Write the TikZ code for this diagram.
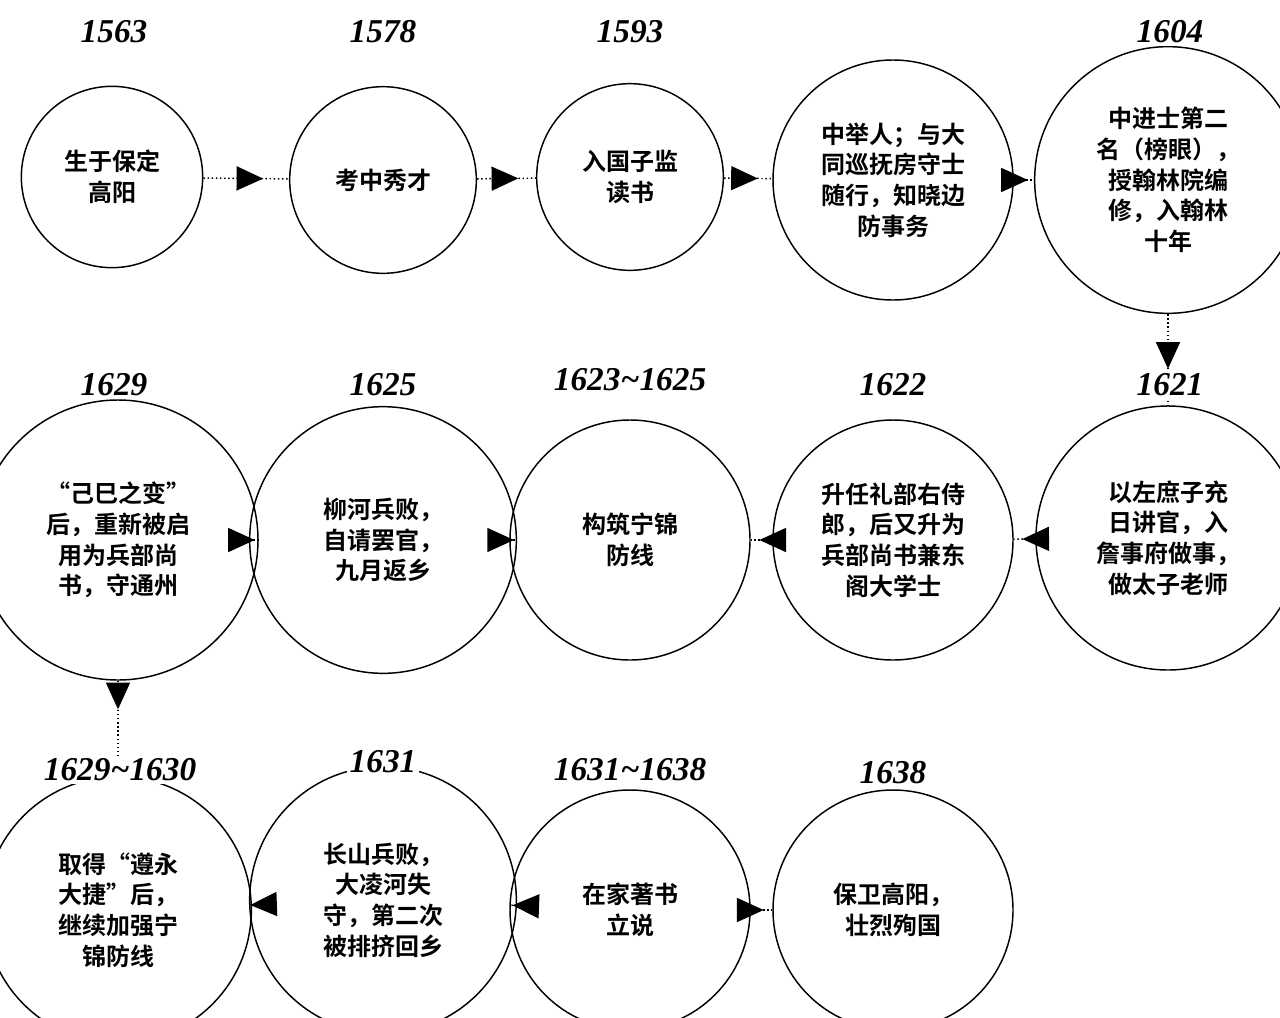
\documentclass[tikz,border=0pt]{standalone}
\usepackage{fontspec}
\setmainfont{Liberation Serif}
\newfontfamily\cjk{Noto Sans CJK SC}[BoldFont={Noto Sans CJK SC Bold}]
\usetikzlibrary{arrows.meta,decorations.markings}
\begin{document}
\begin{tikzpicture}[x=0.75pt,y=-0.75pt,
  ev/.style={circle,draw,line width=1.1pt,inner sep=0pt,align=center,font=\cjk\bfseries\fontsize{18}{23}\selectfont},
  yr/.style={fill=white,inner sep=2pt,font=\bfseries\itshape\fontsize{25}{28}\selectfont},
  flow/.style={dotted,line width=1.1pt,postaction={decorate},decoration={markings,mark=at position #1 with {\arrow{Triangle[length=20pt,width=18pt]}}}}]
\useasboundingbox (0,0) rectangle (1280,1017);
\node[ev,minimum size=136] (a1) at (112,177) {生于保定\\高阳};
\node[ev,minimum size=140] (a2) at (383,180) {考中秀才};
\node[ev,minimum size=140] (a3) at (630,177) {入国子监\\读书};
\node[ev,minimum size=180] (a4) at (893,180) {中举人；与大\\同巡抚房守士\\随行，知晓边\\防事务};
\node[ev,minimum size=200] (a5) at (1168,180) {中进士第二\\名（榜眼），\\授翰林院编\\修，入翰林\\十年};
\node[ev,minimum size=198] (b1) at (1168,538) {以左庶子充\\日讲官，入\\詹事府做事，\\做太子老师};
\node[ev,minimum size=180] (b2) at (893,540) {升任礼部右侍\\郎，后又升为\\兵部尚书兼东\\阁大学士};
\node[ev,minimum size=180] (b3) at (630,540) {构筑宁锦\\防线};
\node[ev,minimum size=200] (b4) at (383,540) {柳河兵败，\\自请罢官，\\九月返乡};
\node[ev,minimum size=210] (b5) at (118,540) {“己巳之变”\\后，重新被启\\用为兵部尚\\书，守通州};
\node[ev,minimum size=200] (c1) at (118,910) {取得“遵永\\大捷”后，\\继续加强宁\\锦防线};
\node[ev,minimum size=200] (c2) at (383,900) {长山兵败，\\大凌河失\\守，第二次\\被排挤回乡};
\node[ev,minimum size=180] (c3) at (630,910) {在家著书\\立说};
\node[ev,minimum size=180] (c4) at (893,910) {保卫高阳，\\壮烈殉国};
\draw[flow=0.7] (a1)--(a2);
\draw[flow=0.7] (a2)--(a3);
\draw[flow=0.7] (a3)--(a4);
\draw[flow=0.7] (a4)--(a5);
\draw[flow=0.6] (a5)--(b1);
\draw[flow=0.6] (b1)--(b2);
\draw[flow=0.6] (b2)--(b3);
\draw[flow=0.6] (b3)--(b4);
\draw[flow=0.6] (b4)--(b5);
\draw[flow=0.3] (b5)--(c1);
\draw[flow=0.6] (c1)--(c2);
\draw[flow=0.6] (c2)--(c3);
\draw[flow=0.6] (c3)--(c4);
\node[yr] (y1) at (114,32) {1563};
\node[yr] (y2) at (383,32) {1578};
\node[yr] (y3) at (630,32) {1593};
\node[yr] (y4) at (893,32) {1604};
\node[yr] (y5) at (1170,32) {1604};
\node[fill=white,minimum width=140,minimum height=40] at (893,32) {};
\node[yr] (y5b) at (1170,32) {1604};
\node[yr] (y6) at (1170,385) {1621};
\node[yr] (y7) at (893,385) {1622};
\node[yr] (y8) at (630,380) {1623\textasciitilde1625};
\node[yr] (y9) at (383,385) {1625};
\node[yr] (y10) at (114,385) {1629};
\node[yr] (y11) at (120,770) {1629\textasciitilde1630};
\node[yr] (y12) at (383,762) {1631};
\node[yr] (y13) at (630,770) {1631\textasciitilde1638};
\node[yr] (y14) at (893,773) {1638};
\end{tikzpicture}
\end{document}
